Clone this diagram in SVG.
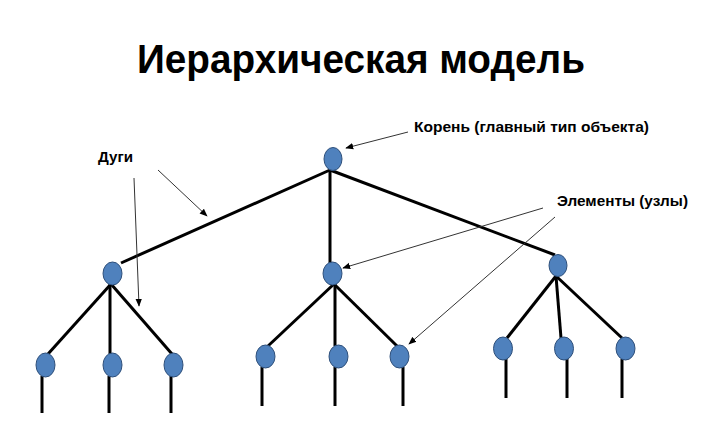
<svg xmlns="http://www.w3.org/2000/svg" width="723" height="427" viewBox="0 0 723 427">
<style>
.n{fill:#4F81BD;stroke:#2E4F7A;stroke-width:1}
.e{stroke:#000;stroke-width:3;fill:none;stroke-linecap:butt}
.p{stroke:#333;stroke-width:1;fill:none;marker-end:url(#ah)}
.t{font-family:"Liberation Sans",Arial,sans-serif;font-weight:bold;fill:#000}
</style>
<defs>
<marker id="ah" viewBox="0 0 10 10" refX="9" refY="5" markerWidth="8" markerHeight="8" markerUnits="userSpaceOnUse" orient="auto">
<path d="M0,1 L10,5 L0,9 z" fill="#000"/>
</marker>
</defs>
<rect width="723" height="427" fill="#fff"/>
<text class="t" x="361" y="73" font-size="40" text-anchor="middle" textLength="448" lengthAdjust="spacingAndGlyphs">Иерархическая модель</text>
<g id="connectors">
<line class="e" x1="330" y1="170" x2="121" y2="263"/>
<line class="e" x1="330" y1="170" x2="330" y2="263"/>
<line class="e" x1="330" y1="170" x2="555" y2="255"/>
<line class="e" x1="111" y1="284" x2="48" y2="354"/>
<line class="e" x1="110" y1="284" x2="110" y2="354"/>
<line class="e" x1="111" y1="284" x2="172" y2="354"/>
<line class="e" x1="42" y1="376" x2="42" y2="413"/>
<line class="e" x1="109" y1="376" x2="109" y2="413"/>
<line class="e" x1="171" y1="376" x2="171" y2="413"/>
<line class="e" x1="334" y1="284" x2="268" y2="346"/>
<line class="e" x1="335" y1="284" x2="335" y2="346"/>
<line class="e" x1="334" y1="284" x2="397" y2="346"/>
<line class="e" x1="262" y1="367" x2="262" y2="406"/>
<line class="e" x1="335" y1="367" x2="335" y2="406"/>
<line class="e" x1="403" y1="367" x2="403" y2="406"/>
<line class="e" x1="556" y1="276" x2="507" y2="338"/>
<line class="e" x1="556" y1="276" x2="561" y2="338"/>
<line class="e" x1="556" y1="276" x2="622" y2="338"/>
<line class="e" x1="506" y1="359" x2="506" y2="398"/>
<line class="e" x1="567" y1="359" x2="567" y2="398"/>
<line class="e" x1="622" y1="359" x2="622" y2="398"/>
<line class="p" x1="158" y1="170" x2="207" y2="216"/>
<line class="p" x1="134" y1="178" x2="139" y2="306"/>
<line class="p" x1="408" y1="132" x2="346" y2="148"/>
<line class="p" x1="543" y1="208" x2="343" y2="268"/>
<line class="p" x1="555" y1="217" x2="409" y2="344"/>
</g>
<g id="root"><ellipse class="n" cx="333" cy="159" rx="9" ry="11.5"/></g>
<g id="n1"><ellipse class="n" cx="112.5" cy="273.5" rx="9.5" ry="11.5"/></g>
<g id="n2"><ellipse class="n" cx="332.5" cy="273.5" rx="9.5" ry="11.5"/></g>
<g id="n3"><ellipse class="n" cx="558" cy="265.5" rx="9" ry="11"/></g>
<g id="n11"><ellipse class="n" cx="45.5" cy="365" rx="9.5" ry="12"/></g>
<g id="n12"><ellipse class="n" cx="112.5" cy="365" rx="9.5" ry="12"/></g>
<g id="n13"><ellipse class="n" cx="173.5" cy="365" rx="9.5" ry="12"/></g>
<g id="n21"><ellipse class="n" cx="265.5" cy="356.5" rx="9.5" ry="11.5"/></g>
<g id="n22"><ellipse class="n" cx="338.5" cy="356.5" rx="9.5" ry="11.5"/></g>
<g id="n23"><ellipse class="n" cx="399.5" cy="356.5" rx="9.5" ry="11.5"/></g>
<g id="n31"><ellipse class="n" cx="503" cy="348.5" rx="9.5" ry="11.5"/></g>
<g id="n32"><ellipse class="n" cx="564" cy="348.5" rx="9.5" ry="11.5"/></g>
<g id="n33"><ellipse class="n" cx="625.5" cy="348.5" rx="9.5" ry="11.5"/></g>
<g id="labels">
<text class="t" x="98" y="162" font-size="15" textLength="35" lengthAdjust="spacingAndGlyphs">Дуги</text>
<text class="t" x="414" y="132" font-size="15" textLength="235" lengthAdjust="spacingAndGlyphs">Корень (главный тип объекта)</text>
<text class="t" x="557" y="206" font-size="15" textLength="131" lengthAdjust="spacingAndGlyphs">Элементы (узлы)</text>
</g>
</svg>
